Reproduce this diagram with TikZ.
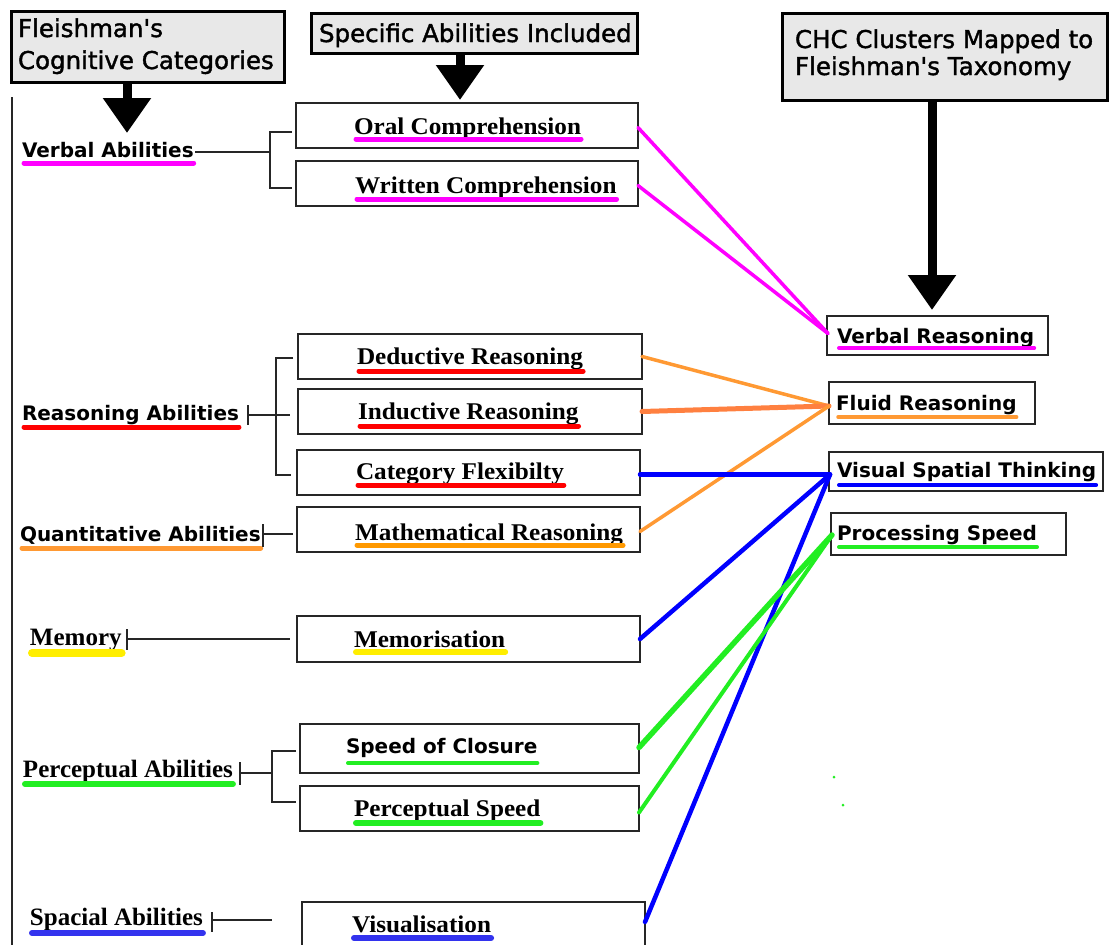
\documentclass[tikz,border=0pt]{standalone}
\usepackage{fontspec}
\usetikzlibrary{arrows.meta}
\newfontfamily\hdfont[Ligatures=TeXOff,FakeBold=1.5]{DejaVu Sans}
\newfontfamily\sbfont[Ligatures=TeXOff]{DejaVu Sans}
\newfontfamily\tmfont[FakeStretch=1.05]{Liberation Serif}
\newfontfamily\tlfont{Liberation Serif}
\definecolor{hdgray}{HTML}{E8E8E8}
\definecolor{cmag}{HTML}{FF00FF}
\definecolor{cred}{HTML}{FF0000}
\definecolor{corange}{HTML}{FF9933}
\definecolor{corangeb}{HTML}{FF8040}
\definecolor{corangeu}{HTML}{FF9900}
\definecolor{cyellow}{HTML}{FFEE00}
\definecolor{cgreen}{HTML}{22EE22}
\definecolor{cblue}{HTML}{0000FF}
\definecolor{cblueu}{HTML}{3333EE}
\definecolor{edge}{HTML}{262626}
\tikzset{
  box/.style={draw=edge, line width=1.5pt, inner sep=0pt, outer sep=0pt, anchor=north west},
  hdr/.style={draw=black, line width=3pt, fill=hdgray, inner sep=0pt, outer sep=0pt, anchor=north west},
  txt/.style={inner sep=0pt, outer sep=0pt, anchor=base west},
  hdtxt/.style={txt, font=\hdfont\fontsize{24.5}{28}\selectfont},
  lsans/.style={txt, font=\sbfont\bfseries\fontsize{20}{22}\selectfont},
  rsans/.style={txt, font=\sbfont\bfseries\fontsize{20}{22}\selectfont},
  serif/.style={txt, font=\tmfont\bfseries\fontsize{24}{26}\selectfont},
  lserif/.style={txt, font=\tlfont\bfseries\fontsize{25}{27}\selectfont},
  ulpen/.style={line cap=round},
  conn/.style={line width=4pt, line cap=round},
  tree/.style={line width=1.3pt, draw=edge},
  bigarrow/.style={draw=black, line width=9pt, -{Triangle[width=46pt,length=35pt]}}
}
% underline: node, colour, offset below baseline, width
\newcommand\ulx[4]{\draw[ulpen, draw=#2, line width=#4pt] ([shift={(2pt,-#3pt)}]#1.base west) -- ([shift={(0pt,-#3pt)}]#1.base east);}
\begin{document}
\begin{tikzpicture}[x=1pt,y=-1pt]
\useasboundingbox (0,0) rectangle (1109,945);
\clip (0,0) rectangle (1109,945);
\fill[white] (0,0) rectangle (1109,945);

% ---------- headers ----------
\node[hdr, minimum width=273pt, minimum height=71pt] (h1) at (11,11) {};
\node[hdtxt] (h1a) at (18,37) {Fleishman's};
\node[hdtxt] (h1b) at (18,69) {Cognitive Categories};
\node[hdr, minimum width=326pt, minimum height=40pt] (h2) at (311,13) {};
\node[hdtxt] (h2a) at (319,42) {Specific Abilities Included};
\node[hdr, minimum width=325pt, minimum height=87pt] (h3) at (782,13) {};
\node[hdtxt] (h3a) at (795,48) {CHC Clusters Mapped to};
\node[hdtxt] (h3b) at (795,75) {Fleishman's Taxonomy};

\coordinate (a1) at (127,133);
\coordinate (a2) at (460,100);
\coordinate (a3) at (932,310);
\draw[bigarrow] (a1 |- h1.south) -- (a1);
\draw[bigarrow] (a2 |- h2.south) -- (a2);
\draw[bigarrow] (a3 |- h3.south) -- (a3);

% left rule
\coordinate (lt) at (12,97);
\coordinate (lb) at (12,950);
\draw[tree] (lt) -- (lb);

% ---------- middle boxes ----------
\node[box, minimum width=342pt, minimum height=45pt] (oral) at (296,103) {};
\node[box, minimum width=342pt, minimum height=45pt] (written) at (296,161) {};
\node[box, minimum width=344pt, minimum height=45pt] (deduct) at (298,334) {};
\node[box, minimum width=344pt, minimum height=45pt] (induct) at (298,389) {};
\node[box, minimum width=343pt, minimum height=45pt] (categ) at (297,450) {};
\node[box, minimum width=343pt, minimum height=45pt] (math) at (297,507) {};
\node[box, minimum width=343pt, minimum height=46pt] (memo) at (297,616) {};
\node[box, minimum width=339pt, minimum height=49pt] (closure) at (300,724) {};
\node[box, minimum width=339pt, minimum height=45pt] (pspeed) at (300,786) {};
\node[box, minimum width=343pt, minimum height=70pt] (visual) at (302,902) {};

\node[serif] (toral) at (354,134) {Oral Comprehension};
\node[serif] (twritten) at (355,193) {Written Comprehension};
\node[serif] (tdeduct) at (357,364) {Deductive Reasoning};
\node[serif] (tinduct) at (358,419) {Inductive Reasoning};
\node[serif] (tcateg) at (356,479) {Category Flexibilty};
\node[serif] (tmath) at (355,540) {Mathematical Reasoning};
\node[serif] (tmemo) at (354,647) {Memorisation};
\node[rsans] (tclosure) at (346,753) {Speed of Closure};
\node[serif] (tpspeed) at (354,816) {Perceptual Speed};
\node[serif] (tvisual) at (352,932) {Visualisation};

\ulx{toral}{cmag}{5}{5}
\ulx{twritten}{cmag}{6}{5}
\ulx{tdeduct}{cred}{7}{5}
\ulx{tinduct}{cred}{7}{5}
\ulx{tcateg}{cred}{6}{5}
\ulx{tmath}{corangeu}{5}{5}
\ulx{tmemo}{cyellow}{5}{6}
\ulx{tclosure}{cgreen}{10}{4}
\ulx{tpspeed}{cgreen}{7}{6}
\ulx{tvisual}{cblueu}{6}{6}

% ---------- left labels ----------
\node[lsans] (va) at (22,157) {Verbal Abilities};
\node[lsans] (ra) at (22,420) {Reasoning Abilities};
\node[lsans] (qa) at (20,541) {Quantitative Abilities};
\node[lserif] (me) at (30,645) {Memory};
\node[lserif] (pa) at (23,777) {Perceptual Abilities};
\node[lserif] (sa) at (30,925) {Spacial Abilities};

\ulx{va}{cmag}{6}{5}
\ulx{ra}{cred}{7}{5}
\ulx{qa}{corange}{7}{5}
\ulx{me}{cyellow}{8}{8}
\ulx{pa}{cgreen}{7}{6}
\ulx{sa}{cblueu}{8}{6}

% ---------- trees ----------
% verbal
\draw[tree] (195,152) -- (270,152);
\draw[tree] (292,132) -- (270,132) -- (270,188) -- (292,188);
% reasoning
\draw[tree] (248,405) -- (248,425);
\draw[tree] (248,415) -- (290,415);
\draw[tree] (293,358) -- (276,358) -- (276,475) -- (291,475);
% quantitative
\draw[tree] (263,524) -- (263,547);
\draw[tree] (263,534) -- (293,534);
% memory
\draw[tree] (127,629) -- (127,650);
\draw[tree] (127,639) -- (290,639);
% perceptual
\draw[tree] (240,762) -- (240,785);
\draw[tree] (240,773) -- (272,773);
\draw[tree] (296,751) -- (272,751) -- (272,802) -- (296,802);
% spacial
\draw[tree] (212,912) -- (212,932);
\draw[tree] (212,920) -- (272,920);

% ---------- right boxes ----------
\node[box, minimum width=221pt, minimum height=39pt] (vr) at (827,316) {};
\node[box, minimum width=206pt, minimum height=42pt] (fr) at (829,382) {};
\node[box, minimum width=274pt, minimum height=39pt] (vst) at (829,452) {};
\node[box, minimum width=235pt, minimum height=42pt] (ps) at (831,513) {};

\node[rsans] (tvr) at (837,343) {Verbal Reasoning};
\node[rsans] (tfr) at (836,410) {Fluid Reasoning};
\node[rsans] (tvst) at (837,477) {Visual Spatial Thinking};
\node[rsans] (tps) at (837,540) {Processing Speed};

\ulx{tvr}{cmag}{5}{4}
\ulx{tfr}{corange}{7}{3.5}
\ulx{tvst}{cblue}{8}{4}
\ulx{tps}{cgreen}{7}{4}

% ---------- connectors ----------
\coordinate (vrin) at ([shift={(1pt,2pt)}]vr.west);
\draw[conn, draw=cmag, line width=3.5pt] ([yshift=-2pt]oral.east) -- (vrin);
\draw[conn, draw=cmag, line width=3.5pt] ([yshift=-2pt]written.east) -- (vrin);

\coordinate (frin) at ([shift={(0pt,-3pt)}]fr.west);
\draw[conn, draw=corange, line width=3.5pt] (deduct.east) -- (frin);
\draw[conn, draw=corangeb, line width=5pt] (induct.east) -- (frin);
\draw[conn, draw=corange, line width=3.5pt] ([yshift=-2pt]math.east) -- (frin);

\coordinate (vstin) at ([shift={(1pt,-3pt)}]vst.west);
\draw[conn, draw=cblue, line width=4.5pt] ([yshift=-2pt]categ.east) -- (vstin);
\draw[conn, draw=cblue, line width=4.5pt] (memo.east) -- (vstin);
\draw[conn, draw=cblue, line width=4.5pt] ([yshift=-20pt]visual.north east) -- (vstin);

\coordinate (psin) at ([shift={(1pt,-1pt)}]ps.west);
\draw[conn, draw=cgreen, line width=5.5pt] ([yshift=1pt]closure.east) -- (psin);
\draw[conn, draw=cgreen, line width=4pt] ([yshift=-4pt]pspeed.east) -- (psin);

% stray dots
\fill[cgreen] (834,777) circle (1.5pt);
\fill[cgreen] (843,805) circle (1.5pt);
\end{tikzpicture}
\end{document}
